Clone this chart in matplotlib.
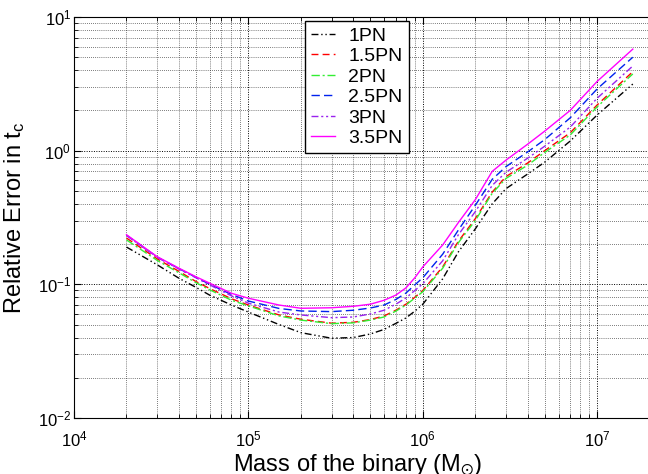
import matplotlib
matplotlib.use('Agg')
import matplotlib.pyplot as plt
import numpy as np

plt.rcParams['font.family'] = ['Liberation Sans', 'DejaVu Sans']
plt.rcParams['mathtext.fontset'] = 'custom'
plt.rcParams['mathtext.rm'] = 'Liberation Sans'
plt.rcParams['mathtext.it'] = 'Liberation Sans:italic'
plt.rcParams['mathtext.default'] = 'regular'

# masa total del binario (masas solares)
masa = [2e4, 3e4, 4e4, 5e4, 6e4, 8e4, 1e5, 1.5e5, 2e5, 3e5, 4e5, 5e5, 6e5, 7e5, 8e5, 9e5,
        1e6, 1.3e6, 1.6e6, 2e6, 2.5e6, 3e6, 4e6, 5e6, 7e6, 1e7, 1.6e7]

error1 = [0.19, 0.14, 0.111, 0.095, 0.083, 0.070, 0.062, 0.050, 0.0435, 0.0395, 0.040, 0.0425,
          0.046, 0.051, 0.056, 0.063, 0.071, 0.11, 0.175, 0.26, 0.40, 0.52, 0.67, 0.82, 1.18,
          1.85, 3.15]
error15 = [0.222, 0.155, 0.125, 0.105, 0.093, 0.078, 0.070, 0.059, 0.0548, 0.0512, 0.052, 0.0545,
           0.058, 0.064, 0.071, 0.080, 0.090, 0.135, 0.21, 0.31, 0.49, 0.64, 0.81, 1.0, 1.36,
           2.2, 3.9]
error2 = [0.215, 0.151, 0.122, 0.103, 0.091, 0.076, 0.069, 0.058, 0.054, 0.0508, 0.0515, 0.054,
          0.057, 0.063, 0.070, 0.079, 0.088, 0.132, 0.205, 0.30, 0.48, 0.62, 0.78, 0.97, 1.31,
          2.13, 3.75]
error25 = [0.233, 0.160, 0.131, 0.113, 0.100, 0.084, 0.075, 0.066, 0.0632, 0.0625, 0.064, 0.0665,
           0.070, 0.077, 0.086, 0.099, 0.112, 0.168, 0.255, 0.39, 0.61, 0.76, 0.98, 1.21, 1.76,
           2.9, 5.0]
error3 = [0.232, 0.159, 0.130, 0.112, 0.099, 0.082, 0.0723, 0.062, 0.059, 0.0563, 0.057, 0.060,
          0.064, 0.071, 0.079, 0.090, 0.101, 0.15, 0.235, 0.35, 0.55, 0.69, 0.88, 1.08, 1.5,
          2.47, 4.3]
error35 = [0.235, 0.161, 0.132, 0.114, 0.102, 0.0857, 0.0787, 0.070, 0.0662, 0.0668, 0.0685, 0.071,
           0.076, 0.083, 0.094, 0.112, 0.135, 0.197, 0.29, 0.43, 0.70, 0.85, 1.12, 1.40, 2.0,
           3.3, 5.75]

etiquetas = ['1PN', '1.5PN', '2PN', '2.5PN', '3PN', '3.5PN']

fig = plt.figure(figsize=(6.48, 4.74), dpi=100)
# los ejes siguen mas alla del borde derecho (como en la figura recortada)
ax = fig.add_axes([74/648, 56/474, 697.6/648, 401/474])

ax.loglog(masa, error1, color='k', ls=(0, (5, 2, 1, 2, 1, 2)), lw=1.0, label=etiquetas[0])
ax.loglog(masa, error15, color='#ff0000', ls=(0, (5, 3)), lw=1.0, label=etiquetas[1])
ax.loglog(masa, error2, color='#33ee33', ls=(0, (6, 2, 1.5, 2)), lw=1.0, label=etiquetas[2])
ax.loglog(masa, error25, color='#0022ee', ls=(0, (6, 3)), lw=1.0, label=etiquetas[3])
ax.loglog(masa, error3, color='#9922ee', ls=(0, (5, 2, 1.5, 2, 1.5, 2)), lw=1.0, label=etiquetas[4])
ax.loglog(masa, error35, color='#ff00ff', ls='-', lw=1.0, label=etiquetas[5])

ax.set_xlim(1e4, 1e8)
ax.set_ylim(1e-2, 1e1)
ax.grid(True, which='major', color='k', ls=(0, (1, 1.5)), lw=0.7)
ax.grid(True, which='minor', color='k', ls=(0, (1, 2)), lw=0.5)
ax.tick_params(which='both', direction='in', top=True, right=True, labelsize=12)
ax.tick_params(which='major', length=5)
ax.tick_params(which='minor', length=3)
ax.tick_params(axis='x', which='major', pad=8)
ax.tick_params(axis='y', which='major', pad=2)

ax.set_xlabel('Mass of the binary (M$_{\\odot}$)', fontsize=17)
ax.xaxis.set_label_coords(0.407, -0.085)
ax.set_ylabel('Relative Error in t$_{c}$', fontsize=17)
ax.yaxis.set_label_coords(-0.068, 0.5)

ax.legend(loc='upper left', bbox_to_anchor=(305/648, 1-21/474), bbox_transform=fig.transFigure,
          fontsize=14, frameon=True, fancybox=False, edgecolor='k', framealpha=1,
          handlelength=1.2, labelspacing=0.145, borderpad=0.32, handletextpad=0.7,
          borderaxespad=0)

fig.savefig('out.png', dpi=100)
